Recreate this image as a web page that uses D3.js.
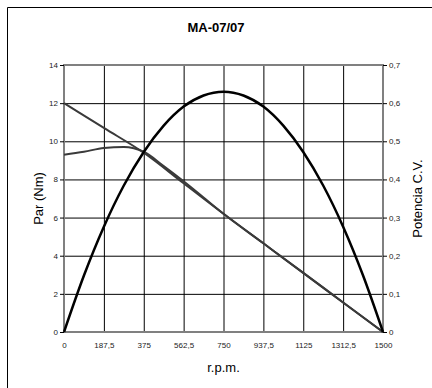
<!DOCTYPE html>
<html>
<head>
<meta charset="utf-8">
<script src="https://cdn.jsdelivr.net/npm/d3@7"></script>
<style>
  body { margin: 0; background: #fff; }
  svg { font-family: "Liberation Sans", Arial, sans-serif; }
</style>
</head>
<body>
<div id="chart"></div>
<script>
// datos
const rpmTicks = [0, 187.5, 375, 562.5, 750, 937.5, 1125, 1312.5, 1500];
const parTicks = [0, 2, 4, 6, 8, 10, 12, 14];
const potTicks = [0, 0.1, 0.2, 0.3, 0.4, 0.5, 0.6, 0.7];

// potencia (C.V.)
const potRpm = [0, 93.75, 187.5, 281.25, 375, 468.75, 562.5, 656.25, 750, 843.75, 937.5, 1031.25, 1125, 1218.75, 1312.5, 1406.25, 1500];
const potVal = [0, 0.148, 0.276, 0.384, 0.472, 0.541, 0.591, 0.620, 0.630, 0.620, 0.591, 0.541, 0.472, 0.384, 0.276, 0.148, 0];

// par (Nm) recta
const parRpm = [0, 187.5, 375, 562.5, 750, 937.5, 1125, 1312.5, 1500];
const parVal = [12, 10.7, 9.4, 7.8, 6.2, 4.65, 3.1, 1.55, 0];

// par (Nm) medido
const par2Rpm = [0, 93.75, 187.5, 281.25, 375, 468.75, 562.5, 656.25, 750, 937.5, 1125, 1312.5, 1500];
const par2Val = [9.3, 9.45, 9.65, 9.7, 9.45, 8.7, 7.9, 7.05, 6.2, 4.65, 3.1, 1.55, 0];

const W = 432, H = 388;
const margin = { top: 65, right: 49, bottom: 56, left: 64 };
const width = W - margin.left - margin.right;
const height = H - margin.top - margin.bottom;

const svg = d3.select("#chart").append("svg")
  .attr("width", W)
  .attr("height", H);

// marco exterior (solo izquierda y arriba visibles)
svg.append("path")
  .attr("d", `M7.5,${H} V7.5 H${W}`)
  .attr("fill", "none")
  .attr("stroke", "#000")
  .attr("stroke-width", 1);

svg.append("text")
  .attr("x", 216)
  .attr("y", 32)
  .attr("text-anchor", "middle")
  .style("font-size", "13px")
  .style("font-weight", "bold")
  .text("MA-07/07");

const g = svg.append("g")
  .attr("transform", `translate(${margin.left},${margin.top})`);

// escalas
const x = d3.scaleLinear().domain([0, 1500]).range([0, width]);
const yPar = d3.scaleLinear().domain([0, 14]).range([height, 0]);
const yPot = d3.scaleLinear().domain([0, 0.7]).range([height, 0]);

const fmt = d3.formatLocale({ decimal: ",", thousands: ".", grouping: [3], currency: ["", ""] });

// rejilla
g.append("g")
  .call(d3.axisLeft(yPar).tickValues(parTicks).tickSize(-width).tickFormat(""))
  .call(s => s.select(".domain").remove())
  .selectAll("line").attr("stroke", "#000").attr("stroke-width", 1);

g.append("g")
  .attr("transform", `translate(0,${height})`)
  .call(d3.axisBottom(x).tickValues(rpmTicks).tickSize(height).tickFormat(""))
  .call(s => s.select(".domain").remove())
  .selectAll("line").attr("stroke", "#000").attr("stroke-width", 1)
  .attr("y2", -height);

// borde del area
g.append("rect")
  .attr("width", width)
  .attr("height", height)
  .attr("fill", "none")
  .attr("stroke", "#808080")
  .attr("stroke-width", 2);

// ejes
const axL = g.append("g")
  .call(d3.axisLeft(yPar).tickValues(parTicks).tickSize(4).tickPadding(2));
axL.select(".domain").remove();

const axR = g.append("g")
  .attr("transform", `translate(${width},0)`)
  .call(d3.axisRight(yPot).tickValues(potTicks).tickSize(4).tickPadding(2)
    .tickFormat(d => d === 0 ? "0" : fmt.format(".1f")(d)));
axR.select(".domain").remove();

const axB = g.append("g")
  .attr("transform", `translate(0,${height})`)
  .call(d3.axisBottom(x).tickValues(rpmTicks).tickSize(0).tickPadding(10)
    .tickFormat(d => fmt.format(",")(d).replace(/\./g, "")));
axB.select(".domain").remove();

svg.selectAll(".tick text")
  .style("font-size", "8px")
  .style("font-family", "'Liberation Sans', Arial, sans-serif")
  .attr("fill", "#222");
svg.selectAll(".tick line").attr("stroke", "#000");

// titulos de ejes
svg.append("text")
  .attr("transform", `translate(43,${margin.top + height / 2}) rotate(-90)`)
  .attr("text-anchor", "middle")
  .style("font-size", "13px")
  .text("Par (Nm)");

svg.append("text")
  .attr("transform", `translate(422,${margin.top + height / 2}) rotate(-90)`)
  .attr("text-anchor", "middle")
  .style("font-size", "13px")
  .text("Potencia C.V.");

svg.append("text")
  .attr("x", margin.left + width / 2)
  .attr("y", 372)
  .attr("text-anchor", "middle")
  .style("font-size", "13px")
  .text("r.p.m.");

// curvas
const linePar = d3.line()
  .x(d => x(d[0]))
  .y(d => yPar(d[1]))
  .curve(d3.curveMonotoneX);

const linePot = d3.line()
  .x(d => x(d[0]))
  .y(d => yPot(d[1]))
  .curve(d3.curveMonotoneX);

g.append("path")
  .datum(d3.zip(parRpm, parVal))
  .attr("d", linePar)
  .attr("fill", "none")
  .attr("stroke", "#3a3a3a")
  .attr("stroke-width", 2);

g.append("path")
  .datum(d3.zip(par2Rpm, par2Val))
  .attr("d", linePar)
  .attr("fill", "none")
  .attr("stroke", "#3a3a3a")
  .attr("stroke-width", 2);

g.append("path")
  .datum(d3.zip(potRpm, potVal))
  .attr("d", linePot)
  .attr("fill", "none")
  .attr("stroke", "#000")
  .attr("stroke-width", 2.5);
</script>
</body>
</html>
